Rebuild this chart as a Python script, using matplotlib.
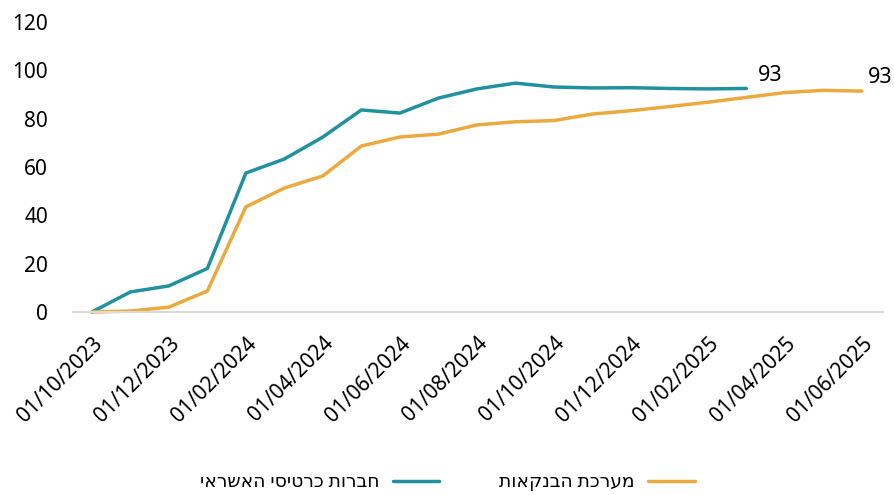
import matplotlib
matplotlib.use("Agg")
import matplotlib.pyplot as plt

plt.rcParams['font.family'] = ['Noto Sans', 'DejaVu Sans']

# monthly, starting 01/10/2023
tick_labels = ['01/10/2023', '01/12/2023', '01/02/2024', '01/04/2024', '01/06/2024',
               '01/08/2024', '01/10/2024', '01/12/2024', '01/02/2025', '01/04/2025',
               '01/06/2025']

credit_cards = [0, 8.3, 10.8, 18, 57.5, 63.3, 72.4, 83.6, 82.3, 88.5, 92.3, 94.7,
                93.1, 92.7, 92.8, 92.5, 92.3, 92.5]
banks = [0, 0.4, 2, 8.7, 43.5, 51.3, 56.3, 68.7, 72.4, 73.6, 77.4, 78.7, 79.2,
         81.9, 83.3, 85, 86.8, 88.8, 90.8, 91.7, 91.4]

name_cards = "חברות כרטיסי האשראי"
name_banks = "מערכת הבנקאות"

teal = '#2190A0'
orange = '#EAAA3E'

fig = plt.figure(figsize=(8.95, 4.95), dpi=100)
ax = fig.add_axes([0.0816, 0.3697, 0.905, 0.5859])

ax.plot(range(len(credit_cards)), credit_cards, color=teal, lw=2.5,
        solid_capstyle='round', clip_on=False, label=name_cards[::-1])
ax.plot(range(len(banks)), banks, color=orange, lw=2.5,
        solid_capstyle='round', clip_on=False, label=name_banks[::-1])

ax.annotate(f"{round(credit_cards[-1] + 0.5):d}", (len(credit_cards) - 1, credit_cards[-1]),
            xytext=(8, 9), textcoords='offset points', ha='left', va='center', fontsize=15.5)
ax.annotate(f"{round(banks[-1] + 1.6):d}", (len(banks) - 1, banks[-1]),
            xytext=(4, 10), textcoords='offset points', ha='left', va='center', fontsize=15.5)

ax.set_xlim(-0.49, 20.55)
ax.set_ylim(0, 120)
ax.set_yticks(range(0, 121, 20))
ax.set_xticks(range(0, 21, 2))
ax.set_xticklabels(tick_labels, rotation=45, ha='right', va='top', rotation_mode='anchor')

for s in ['top', 'right', 'left']:
    ax.spines[s].set_visible(False)
ax.spines['bottom'].set_color('#d9d9d9')
ax.spines['bottom'].set_linewidth(1.5)
ax.tick_params(axis='y', length=0, pad=18, labelsize=15)
ax.tick_params(axis='x', length=0, pad=15, labelsize=15)

fig.legend(loc='center', bbox_to_anchor=(0.5, 0.026), ncol=2, frameon=False,
           markerfirst=False, fontsize=13.5, handlelength=2.5, handletextpad=0.7,
           columnspacing=3.2)

fig.savefig('out.png', dpi=100)
